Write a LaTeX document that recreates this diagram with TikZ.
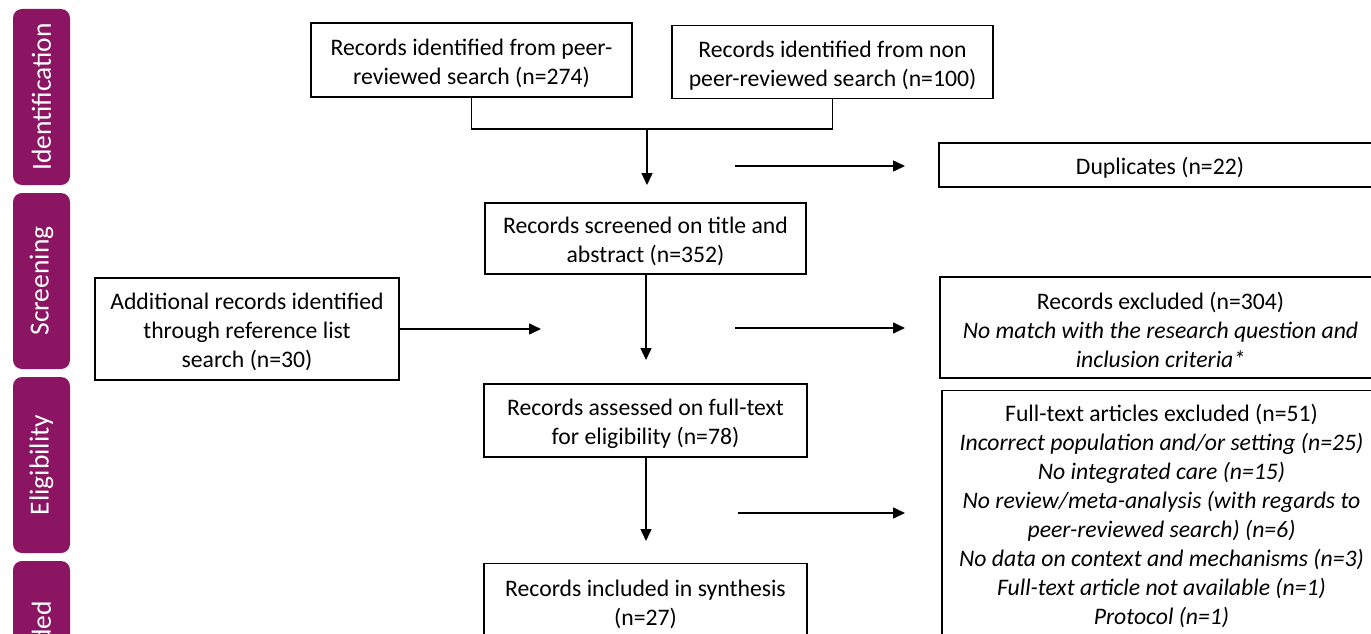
\documentclass[tikz,border=0pt]{standalone}
\usepackage{fontspec}
\setmainfont{Carlito}
\usetikzlibrary{arrows.meta}
\definecolor{tabpurple}{RGB}{139,21,98}
\newcommand\firstln{\rule{0pt}{23pt}}
\begin{document}
\begin{tikzpicture}[x=1pt,y=-1pt,
  box/.style={draw=black, line width=1.3pt, inner sep=0pt, align=center, font=\fontsize{23.7}{29}\selectfont},
  tabbox/.style={fill=tabpurple, rounded corners=9pt, minimum width=57pt, minimum height=176pt, inner sep=0pt},
  tablabel/.style={text=white, rotate=90, inner sep=0pt, font=\fontsize{27.5}{32}\selectfont},
  arr/.style={line width=1.5pt, -{Triangle[length=12pt,width=11pt]}},
  link/.style={line width=1.3pt}]
\clip (0,0) rectangle (1371,634);
\fill[white] (0,0) rectangle (1371,634);

% phase tabs
\node[tabbox] (tid) at (41.5,97) {};
\node[tablabel] (lid) at (tid.center) {Identification};
\node[tabbox] (tsc) at (41.5,281) {};
\node[tablabel] (lsc) at (tsc.center) {Screening};
\node[tabbox] (tel) at (41.5,465) {};
\node[tablabel] (lel) at (tel.center) {Eligibility};
\node[tabbox] (tin) at (41.5,649) {};
\node[tablabel] (lin) at (tin.center) {Included};

% boxes
\node[box, minimum width=321pt, minimum height=74pt] (peer) at (471.5,60) {\firstln Records identified from peer-\\reviewed search (n=274)};
\node[box, minimum width=321pt, minimum height=73pt] (nonpeer) at (832.5,62) {\firstln Records identified from non\\peer-reviewed search (n=100)};
\node[box, minimum width=442pt, minimum height=44pt] (dup) at (1160,165) {\firstln Duplicates (n=22)};
\node[box, minimum width=321pt, minimum height=71pt] (screened) at (645.5,238.5) {\firstln Records screened on title and\\abstract (n=352)};
\node[box, minimum width=304pt, minimum height=102pt] (add) at (247,329) {\firstln Additional records identified\\through reference list\\search (n=30)};
\node[box, minimum width=441pt, minimum height=101pt] (excl) at (1160.5,327.5) {\firstln Records excluded (n=304)\\\textit{No match with the research question and}\\\textit{inclusion criteria*}};
\node[box, minimum width=323pt, minimum height=73pt] (assess) at (645.5,420.5) {\firstln Records assessed on full-text\\for eligibility (n=78)};
\node[box, minimum width=439pt, minimum height=244pt, anchor=north] (ftex) at (1161.5,390) {\firstln Full-text articles excluded (n=51)\\\textit{Incorrect population and/or setting (n=25)}\\\textit{No integrated care (n=15)}\\\textit{No review/meta-analysis (with regards to}\\\textit{peer-reviewed search) (n=6)}\\\textit{No data on context and mechanisms (n=3)}\\\textit{Full-text article not available (n=1)}\\\textit{Protocol (n=1)}};
\node[box, minimum width=323pt, minimum height=74pt, anchor=north] (incl) at (645.5,563) {\firstln Records included in synthesis\\(n=27)};

% connector coordinates
\coordinate (br) at (647,129);
\coordinate (a1e) at (647,185);
\coordinate (d1s) at (735,166);
\coordinate (d1e) at (905,166);
\coordinate (a2e) at (646,360);
\coordinate (adde) at (541,329);
\coordinate (x1s) at (735,328);
\coordinate (x1e) at (905,328);
\coordinate (a3e) at (646,541);
\coordinate (f1s) at (738,513);
\coordinate (f1e) at (905,513);

% connectors
\draw[link] (peer.south) |- (br) -| (nonpeer.south);
\draw[arr] (br) -- (a1e);
\draw[arr] (d1s) -- (d1e);
\draw[arr] (screened.south -| a2e) -- (a2e);
\draw[arr] (add.east) -- (adde);
\draw[arr] (x1s) -- (x1e);
\draw[arr] (assess.south -| a3e) -- (a3e);
\draw[arr] (f1s) -- (f1e);
\end{tikzpicture}
\end{document}
